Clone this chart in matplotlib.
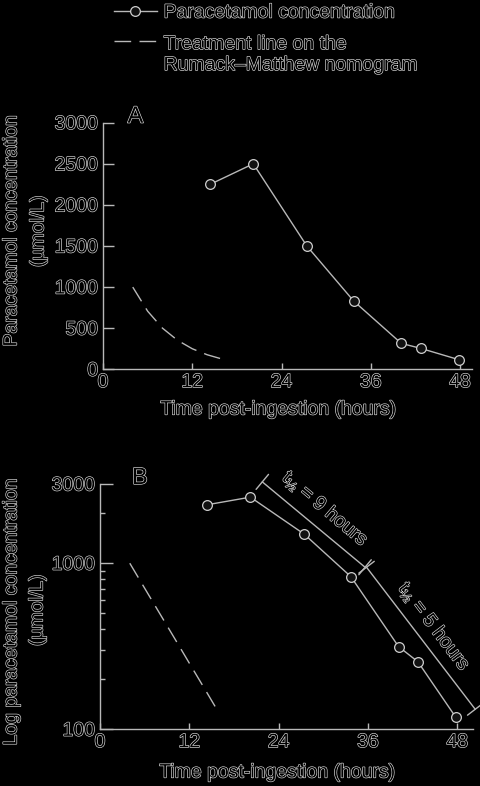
import matplotlib
matplotlib.use('Agg')
import matplotlib.pyplot as plt
import matplotlib.patheffects as pe
from matplotlib.legend_handler import HandlerLine2D

# ---- data ----
time_h = [14.4, 20.2, 27.4, 33.7, 40.1, 42.7, 47.8]
conc = [2250, 2500, 1500, 830, 315, 255, 118]
treat_h = [4, 6, 8, 10, 12, 14, 16]
treat_conc = [1000, 707, 500, 354, 250, 177, 125]
x_ticks = [0, 12, 24, 36, 48]
yticks_A = [0, 500, 1000, 1500, 2000, 2500, 3000]
yticks_B = [100, 1000, 3000]
yminor_B = [200, 300, 400, 500, 600, 700, 800, 900, 2000]
hl1_x = [21.8, 35.6]
hl1_y = [3090, 946]
hl2_x = [35.8, 50.4]
hl2_y = [946, 132]
hl_labels = [r'$\mathregular{t_{½}}$ = 9 hours', r'$\mathregular{t_{½}}$ = 5 hours']
legend_labels = ['Paracetamol concentration', 'Treatment line on the\nRumack–Matthew nomogram']

plt.rcParams['font.family'] = ['Liberation Sans', 'DejaVu Sans']
plt.rcParams['lines.scale_dashes'] = False

FS = 14
GREY = '#b8b8b8'
outline = [pe.withStroke(linewidth=0.9, foreground='#e0e0e0')]

fig = plt.figure(figsize=(4.8, 7.86), dpi=100, facecolor='black')


class HandlerFirstLine(HandlerLine2D):
    def __init__(self, shift, **kw):
        super().__init__(**kw)
        self.shift = shift

    def create_artists(self, legend, orig_handle, xdescent, ydescent, width, height, fontsize, trans):
        arts = super().create_artists(legend, orig_handle, xdescent, ydescent, width, height, fontsize, trans)
        for a in arts:
            a.set_ydata([y + self.shift for y in a.get_ydata()])
        return arts


def style_axes(ax):
    ax.set_facecolor('black')
    for s in ['top', 'right']:
        ax.spines[s].set_visible(False)
    for s in ['left', 'bottom']:
        ax.spines[s].set_color(GREY)
        ax.spines[s].set_linewidth(1.0)
    ax.tick_params(colors=GREY, labelcolor='black', labelsize=FS, direction='in', width=1.0)
    ax.tick_params(axis='x', length=4)
    for lab in ax.get_xticklabels() + ax.get_yticklabels():
        lab.set_path_effects(outline)


# ---- Panel A ----
axA = fig.add_axes([103/480, 1-369.3/786, (472-103)/480, (369.3-122.7)/786])
lc, = axA.plot(time_h, conc, color=GREY, lw=1.0, marker='o', ms=7,
               mfc='#111111', mec='#cfcfcf', mew=0.9, zorder=3)
lt, = axA.plot(treat_h, treat_conc, color=GREY, lw=1.0, dashes=(12, 6))
axA.set_xlim(0, 49.6)
axA.set_ylim(0, 3000)
axA.set_xticks(x_ticks)
axA.set_yticks(yticks_A)
style_axes(axA)
axA.tick_params(axis='y', length=8)
axA.text(3.3, 3000, 'A', fontsize=17, va='baseline', ha='left', color='black', path_effects=outline)

# ---- Panel B ----
axB = fig.add_axes([100/480, 1-729.3/786, (473-100)/480, (729.3-484)/786])
axB.plot(time_h, conc, color=GREY, lw=1.0, marker='o', ms=7,
         mfc='#111111', mec='#cfcfcf', mew=0.9, zorder=3)
axB.plot(treat_h, treat_conc, color=GREY, lw=1.0, dashes=(12, 6))
axB.set_yscale('log')
axB.set_xlim(0, 50.1)
axB.set_ylim(100, 3000)
axB.set_xticks(x_ticks)
axB.set_yticks(yticks_B)
axB.set_yticks(yminor_B, minor=True)
axB.set_yticklabels([str(v) for v in yticks_B])
axB.set_yticklabels([], minor=True)
style_axes(axB)
axB.tick_params(axis='y', which='major', length=9)
axB.tick_params(axis='y', which='minor', length=3.5, colors=GREY, direction='in', width=1.0)
axB.text(4.3, 3000, 'B', fontsize=17, va='baseline', ha='left', color='black', path_effects=outline)

for (xs, ys) in [(hl1_x, hl1_y), (hl2_x, hl2_y)]:
    axB.annotate('', xy=(xs[1], ys[1]), xytext=(xs[0], ys[0]),
                 arrowprops=dict(arrowstyle='|-|, widthA=0.35, widthB=0.35',
                                 color=GREY, lw=1.0, shrinkA=0, shrinkB=0,
                                 mutation_scale=20),
                 annotation_clip=False)
axB.text(30.2, 2100, hl_labels[0], fontsize=FS, rotation=-40, ha='center', va='center',
         rotation_mode='anchor', color='black', path_effects=outline)
axB.text(44.8, 410, hl_labels[1], fontsize=FS, rotation=-52.7, ha='center', va='center',
         rotation_mode='anchor', color='black', path_effects=outline)

# ---- axis labels ----
fig.text(12/480, 1-230/786, 'Paracetamol concentration', rotation=90, ha='center', va='center',
         fontsize=FS, color='black', path_effects=outline)
fig.text(39/480, 1-231/786, '(µmol/L)', rotation=90, ha='center', va='center',
         fontsize=FS, color='black', path_effects=outline)
fig.text(12/480, 1-611/786, 'Log paracetamol concentration', rotation=90, ha='center', va='center',
         fontsize=FS, color='black', path_effects=outline)
fig.text(38/480, 1-610/786, '(µmol/L)', rotation=90, ha='center', va='center',
         fontsize=FS, color='black', path_effects=outline)
fig.text(279/480, 1-410/786, 'Time post-ingestion (hours)', ha='center', va='center',
         fontsize=FS, color='black', path_effects=outline)
fig.text(278/480, 1-773/786, 'Time post-ingestion (hours)', ha='center', va='center',
         fontsize=FS, color='black', path_effects=outline)

# ---- legend ----
leg = fig.legend([lc, lt], legend_labels,
                 loc='upper left', bbox_to_anchor=(114/480, 1-4/786), bbox_transform=fig.transFigure,
                 frameon=False, fontsize=FS, handlelength=2.2, handletextpad=0.35,
                 borderpad=0, borderaxespad=0, labelspacing=0.75, numpoints=1,
                 handler_map={lt: HandlerFirstLine(shift=10)})
for t in leg.get_texts():
    t.set_color('black')
    t.set_linespacing(1.3)
    t.set_path_effects(outline)

fig.savefig('out.png', dpi=100, facecolor='black')
